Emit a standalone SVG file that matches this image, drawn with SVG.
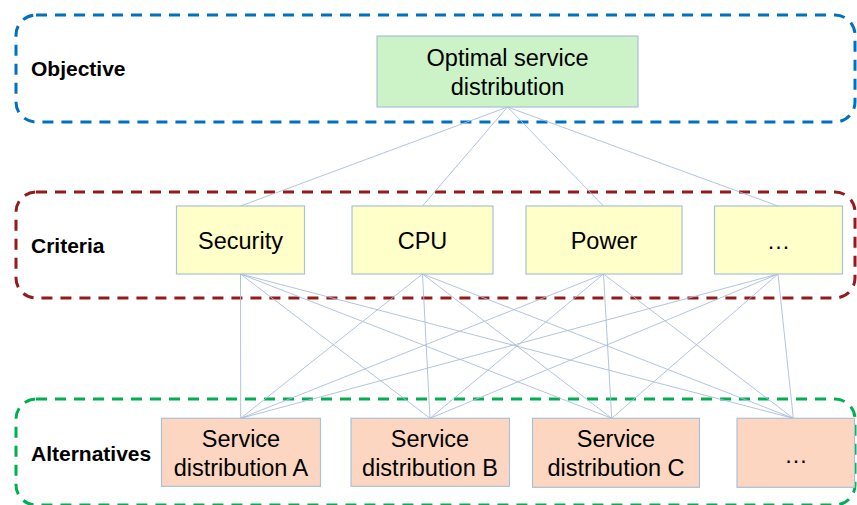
<svg xmlns="http://www.w3.org/2000/svg" width="857" height="505" viewBox="0 0 857 505">
  <style>
    .layer { fill: none; stroke-width: 3; stroke-dasharray: 11 8; }
    .lbl { font-family: "Liberation Sans", Arial, sans-serif; font-weight: bold; font-size: 21px; fill: #000; }
    .node rect { stroke: #a9c0d9; stroke-width: 1.2; }
    .node text { font-family: "Liberation Sans", Arial, sans-serif; font-size: 23.5px; fill: #000; text-anchor: middle; }
    .obj rect { fill: #ccf3c8; }
    .crit rect { fill: #ffffc9; }
    .alt rect { fill: #fcd6c1; }
    #connectors line { stroke: #a8bdd9; stroke-width: 0.9; }
  </style>

  <!-- layer frames -->
  <g id="layer-objective">
    <rect class="layer" x="16" y="15" width="839" height="107" rx="20" stroke="#0070c0"/>
    <text class="lbl" x="31" y="76">Objective</text>
  </g>
  <g id="layer-criteria">
    <rect class="layer" x="16" y="192" width="839" height="106" rx="20" stroke="#921b1b"/>
    <text class="lbl" x="31" y="253">Criteria</text>
  </g>
  <g id="layer-alternatives">
    <rect class="layer" x="16" y="399" width="839" height="106" rx="20" stroke="#00b050"/>
    <text class="lbl" x="31" y="461">Alternatives</text>
  </g>

  <!-- links between levels -->
  <g id="connectors">
    <line x1="507.5" y1="107" x2="240.5" y2="206"/>
    <line x1="507.5" y1="107" x2="422.5" y2="206"/>
    <line x1="507.5" y1="107" x2="603.5" y2="206"/>
    <line x1="507.5" y1="107" x2="778" y2="206"/>

    <line x1="240.5" y1="274" x2="240.7" y2="418.3"/>
    <line x1="240.5" y1="274" x2="430" y2="418.3"/>
    <line x1="240.5" y1="274" x2="611.7" y2="418.3"/>
    <line x1="240.5" y1="274" x2="793.3" y2="418.3"/>

    <line x1="422.5" y1="274" x2="240.7" y2="418.3"/>
    <line x1="422.5" y1="274" x2="430" y2="418.3"/>
    <line x1="422.5" y1="274" x2="611.7" y2="418.3"/>
    <line x1="422.5" y1="274" x2="793.3" y2="418.3"/>

    <line x1="603.5" y1="274" x2="240.7" y2="418.3"/>
    <line x1="603.5" y1="274" x2="430" y2="418.3"/>
    <line x1="603.5" y1="274" x2="611.7" y2="418.3"/>
    <line x1="603.5" y1="274" x2="793.3" y2="418.3"/>

    <line x1="778" y1="274" x2="240.7" y2="418.3"/>
    <line x1="778" y1="274" x2="430" y2="418.3"/>
    <line x1="778" y1="274" x2="611.7" y2="418.3"/>
    <line x1="778" y1="274" x2="793.3" y2="418.3"/>
  </g>

  <!-- objective -->
  <g id="node-objective" class="node obj">
    <rect x="377" y="36" width="261" height="71"/>
    <text x="507.5" y="66">Optimal service</text>
    <text x="507.5" y="95">distribution</text>
  </g>

  <!-- criteria -->
  <g id="node-security" class="node crit">
    <rect x="176.5" y="206" width="128" height="68"/>
    <text x="240.5" y="249">Security</text>
  </g>
  <g id="node-cpu" class="node crit">
    <rect x="352" y="206" width="141" height="68"/>
    <text x="422.5" y="249">CPU</text>
  </g>
  <g id="node-power" class="node crit">
    <rect x="526" y="206" width="156" height="68"/>
    <text x="604" y="249">Power</text>
  </g>
  <g id="node-criteria-more" class="node crit">
    <rect x="714.5" y="206" width="128" height="68"/>
    <text x="778.5" y="249">…</text>
  </g>

  <!-- alternatives -->
  <g id="node-alt-a" class="node alt">
    <rect x="161.5" y="418.3" width="159" height="68"/>
    <text x="241" y="447">Service</text>
    <text x="241" y="476">distribution A</text>
  </g>
  <g id="node-alt-b" class="node alt">
    <rect x="351" y="418.3" width="158.5" height="68"/>
    <text x="430" y="447">Service</text>
    <text x="430" y="476">distribution B</text>
  </g>
  <g id="node-alt-c" class="node alt">
    <rect x="532.5" y="418.3" width="167" height="69"/>
    <text x="616" y="447">Service</text>
    <text x="616" y="476">distribution C</text>
  </g>
  <g id="node-alt-more" class="node alt">
    <rect x="737" y="418.3" width="117.5" height="69"/>
    <text x="796" y="463">…</text>
  </g>
</svg>
